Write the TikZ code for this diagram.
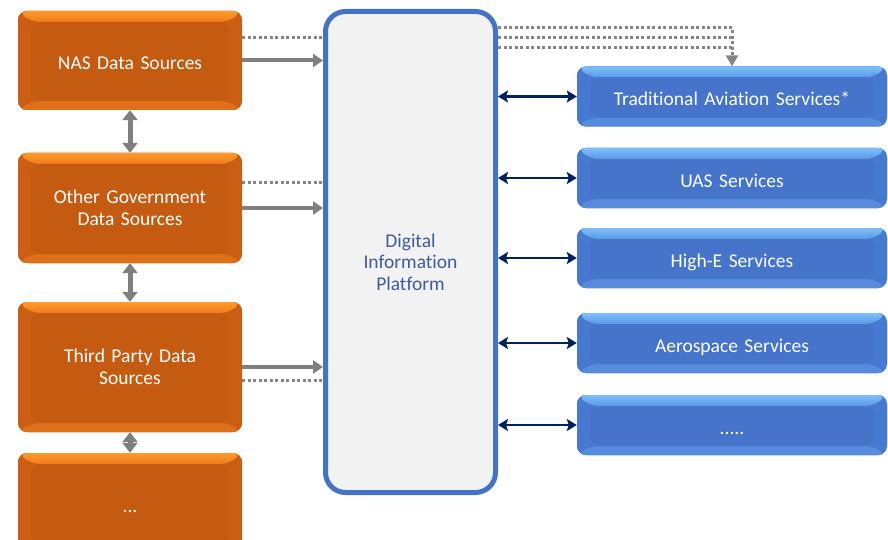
\documentclass[tikz,border=0pt]{standalone}
\usepackage{fontspec}
\setmainfont{Carlito}[Ligatures=NoCommon]
\usetikzlibrary{arrows.meta,calc}
\pgfdeclarelayer{bg}
\pgfsetlayers{bg,main}
\definecolor{ortop}{HTML}{FF9A2A}
\definecolor{orbandlow}{HTML}{EE7C1E}
\definecolor{orside}{HTML}{C95E14}
\definecolor{orbottom}{HTML}{DE7019}
\definecolor{orface}{HTML}{C55A11}
\definecolor{bltop}{HTML}{7CC0FA}
\definecolor{blbandlow}{HTML}{5B98E6}
\definecolor{blside}{HTML}{4879D0}
\definecolor{blbottom}{HTML}{578CDC}
\definecolor{blface}{HTML}{4574CA}
\definecolor{platborder}{HTML}{4472C4}
\definecolor{platfill}{HTML}{F2F2F2}
\definecolor{plattext}{HTML}{3E5C9C}
\definecolor{grayarrow}{HTML}{7F7F7F}
\definecolor{graydot}{HTML}{858585}
\definecolor{navy}{HTML}{002060}
\tikzset{
  bevelbox/.style n args={5}{
    rounded corners=9pt, fill=#3, text=white, align=center,
    font=\fontsize{19.5}{22}\selectfont,
    path picture={
      \fill[#3] (path picture bounding box.south west) rectangle (path picture bounding box.north east);
      \shade[top color=#1,bottom color=#2]
        (path picture bounding box.north west) -- (path picture bounding box.north east)
        -- ($(path picture bounding box.north east)+(-13pt,-11pt)$)
        -- ($(path picture bounding box.north west)+(13pt,-11pt)$) -- cycle;
      \fill[#4]
        (path picture bounding box.south west) -- (path picture bounding box.south east)
        -- ($(path picture bounding box.south east)+(-13pt,9pt)$)
        -- ($(path picture bounding box.south west)+(13pt,9pt)$) -- cycle;
      \fill[#5] ($(path picture bounding box.north west)+(13pt,-11pt)$)
        rectangle ($(path picture bounding box.south east)+(-13pt,9pt)$);
    }},
  orbox/.style={bevelbox={ortop}{orbandlow}{orside}{orbottom}{orface},
    minimum width=224pt, text width=210pt, inner sep=0pt},
  blbox/.style={bevelbox={bltop}{blbandlow}{blside}{blbottom}{blface},
    minimum width=310pt, minimum height=60pt, text width=296pt, inner sep=0pt,
    oneline},
  oneline/.style={text height=18pt, text depth=0pt},
  platbox/.style={draw=platborder, line width=5pt, fill=platfill, rounded corners=20pt,
    minimum width=170pt, minimum height=481pt, inner sep=0pt, text=plattext,
    align=center, font=\fontsize{19.5}{21.5}\selectfont},
  grayarr/.style={draw=grayarrow, line width=4pt, -{Triangle[length=10pt,width=13pt]}},
  graydbl/.style={draw=grayarrow, line width=5pt,
    {Triangle[length=10pt,width=15pt]}-{Triangle[length=10pt,width=15pt]}},
  dotline/.style={draw=graydot, line width=3pt, dash pattern=on 3pt off 2.5pt},
  navyarr/.style={draw=navy, line width=2.5pt,
    {Stealth[length=10pt,width=12pt,inset=2pt]}-{Stealth[length=10pt,width=12pt,inset=2pt]}}
}
\begin{document}
\begin{tikzpicture}[x=1pt,y=-1pt]
\useasboundingbox (0,0) rectangle (888,540);
\clip (0,0) rectangle (888,540);

% source boxes
\node[orbox, oneline, minimum height=99pt] (nas) at (130,60.5) {NAS Data Sources};
\node[orbox, minimum height=110pt] (ogov) at (130,208) {Other Government\\Data Sources};
\node[orbox, minimum height=130pt] (third) at (130,367) {Third Party Data\\Sources};
\node[orbox, oneline, minimum height=100pt] (more) at (130,503) {...};

% platform
\node[platbox] (dip) at (410.5,252) {\mbox{}\\[12pt]Digital\\Information\\Platform};

% service boxes
\node[blbox] (trad) at (732,96.5) {Traditional Aviation Services*};
\node[blbox] (uas) at (732,178) {UAS Services};
\node[blbox] (highe) at (732,258) {High-E Services};
\node[blbox] (aero) at (732,343) {Aerospace Services};
\node[blbox] (more2) at (732,425) {.....};

\begin{pgfonlayer}{bg}
  \draw[dotline] ([yshift=22.5pt]nas.east) -- ([yshift=22.5pt]nas.east -| dip.west);
  \draw[dotline] ([yshift=25pt]ogov.east) -- ([yshift=25pt]ogov.east -| dip.west);
  \draw[dotline] ([yshift=-13pt]third.east) -- ([yshift=-13pt]third.east -| dip.west);
\end{pgfonlayer}

% dotted lines to traditional aviation
\draw[dotline] ([yshift=214pt]dip.east) -- ([yshift=214pt]dip.east -| trad.north);
\draw[dotline] ([yshift=204pt]dip.east) -- ([yshift=204pt]dip.east -| trad.north);
\draw[dotline, -{Triangle[length=11pt,width=12pt]}] ([yshift=224pt]dip.east) -| (trad.north);

% gray arrows into platform
\draw[grayarr] (nas.east) -- (nas.east -| dip.west);
\draw[grayarr] (ogov.east) -- (ogov.east -| dip.west);
\draw[grayarr] (third.east) -- (third.east -| dip.west);

% vertical double arrows between sources
\draw[graydbl] (nas.south) -- (ogov.north);
\draw[graydbl] (ogov.south) -- (third.north);
\draw[graydbl] (third.south) -- (more.north);

% navy double arrows to services
\draw[navyarr] (trad.west -| dip.east) -- (trad.west);
\draw[navyarr] (uas.west -| dip.east) -- (uas.west);
\draw[navyarr] (highe.west -| dip.east) -- (highe.west);
\draw[navyarr] (aero.west -| dip.east) -- (aero.west);
\draw[navyarr] (more2.west -| dip.east) -- (more2.west);
\end{tikzpicture}
\end{document}
